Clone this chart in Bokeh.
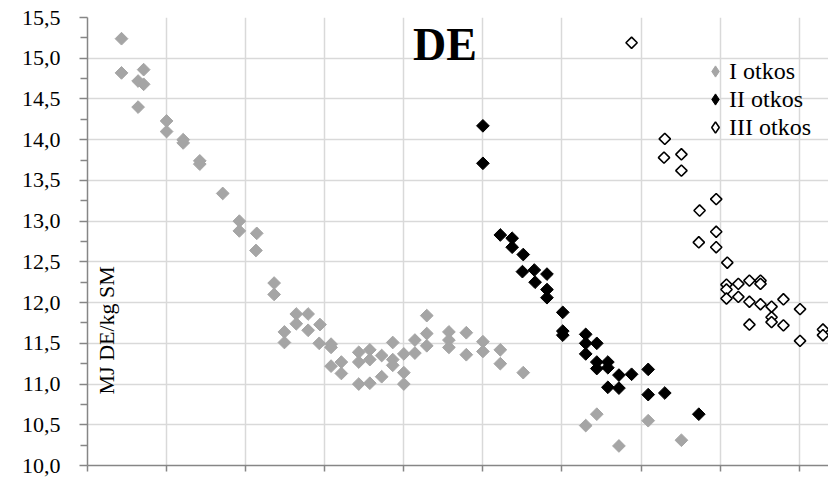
import numpy as np
from bokeh.plotting import figure
from bokeh.layouts import row
from bokeh.models import FixedTicker, Label, Range1d, Legend, LegendItem, Spacer
from bokeh.embed import file_html
from bokeh.resources import INLINE

# I otkos (grey)
x1 = [4.3, 4.3, 7.1, 6.4, 7.1, 6.4, 10.0, 10.0, 12.1, 12.1, 14.2, 14.2, 17.1, 19.2, 19.2,
      21.4, 21.3, 23.6, 23.6, 24.9, 24.9, 26.4, 26.4, 27.9, 27.9, 29.4, 29.3, 30.8, 30.8,
      30.8, 32.1, 32.1, 34.3, 34.3, 34.3, 35.7, 35.7, 35.7, 37.2, 37.2, 38.6, 38.6, 38.6,
      40.0, 40.0, 40.0, 41.4, 41.4, 42.9, 42.9, 42.9, 45.7, 45.7, 45.7, 47.9, 47.9, 50.0,
      50.0, 52.2, 52.2, 55.1, 63.0, 64.4, 67.2, 70.9, 75.1]
y1 = [15.24, 14.82, 14.86, 14.72, 14.68, 14.40, 14.23, 14.10, 14.00, 13.96, 13.74, 13.70,
      13.34, 13.00, 12.88, 12.85, 12.64, 12.24, 12.10, 11.64, 11.51, 11.86, 11.74, 11.86,
      11.66, 11.73, 11.50, 11.49, 11.45, 11.22, 11.27, 11.13, 11.39, 11.27, 11.00, 11.42,
      11.30, 11.01, 11.35, 11.09, 11.51, 11.30, 11.23, 11.37, 11.14, 11.00, 11.54, 11.38,
      11.84, 11.62, 11.47, 11.64, 11.54, 11.45, 11.63, 11.36, 11.52, 11.40, 11.42, 11.25,
      11.14, 10.49, 10.63, 10.24, 10.55, 10.31]

# II otkos (black)
x2 = [50.0, 50.0, 52.2, 53.7, 53.7, 55.1, 55.0, 56.5, 56.6, 58.1, 58.1, 58.1, 60.1, 60.1,
      60.1, 63.0, 63.0, 63.0, 64.4, 64.4, 64.4, 65.8, 65.8, 65.8, 67.2, 67.2, 68.8, 70.9,
      70.9, 73.0, 77.3]
y2 = [14.17, 13.71, 12.83, 12.79, 12.68, 12.59, 12.38, 12.40, 12.25, 12.35, 12.16, 12.06,
      11.88, 11.65, 11.60, 11.61, 11.50, 11.37, 11.50, 11.27, 11.19, 11.27, 11.20, 10.96,
      11.11, 10.95, 11.12, 11.18, 10.87, 10.89, 10.63]

# III otkos (white)
x3 = [68.8, 73.0, 72.9, 75.1, 75.1, 79.5, 77.4, 79.5, 77.3, 79.5, 80.9, 80.8, 80.8, 80.8,
      82.3, 82.3, 83.7, 83.7, 83.7, 85.1, 85.1, 85.1, 86.5, 86.5, 86.5, 88.0, 88.0, 90.1,
      90.1, 93.0, 93.0]
y3 = [15.19, 14.01, 13.78, 13.82, 13.62, 13.27, 13.13, 12.87, 12.74, 12.68, 12.49, 12.22,
      12.16, 12.05, 12.23, 12.07, 12.27, 12.01, 11.73, 12.27, 12.23, 11.98, 11.95, 11.82,
      11.76, 12.04, 11.72, 11.92, 11.53, 11.67, 11.60]

series_names = ["I otkos", "II otkos", "III otkos"]

y_ticks = [10.0, 10.5, 11.0, 11.5, 12.0, 12.5, 13.0, 13.5, 14.0, 14.5, 15.0, 15.5]
y_minor = [10.25, 10.75, 11.25, 11.75, 12.25, 12.75, 13.25, 13.75, 14.25, 14.75, 15.25]
y_labels = ["10,0", "10,5", "11,0", "11,5", "12,0", "12,5", "13,0", "13,5", "14,0",
            "14,5", "15,0", "15,5"]
x_ticks = [0, 10, 20, 30, 40, 50, 60, 70, 80, 90]

FONT = "Liberation Serif"
GRID = "#d9d9d9"
AXIS = "#868686"
GREY = "#a5a5a5"

p = figure(width=810, height=480, output_backend="svg", toolbar_location=None,
           x_range=Range1d(0, 93.7), y_range=Range1d(10, 15.5),
           min_border_left=0, min_border_right=0, min_border_top=17,
           min_border_bottom=15)
p.outline_line_color = None
p.background_fill_color = "white"
p.border_fill_color = "white"

# axes
p.yaxis.ticker = FixedTicker(ticks=y_ticks, minor_ticks=y_minor)
p.yaxis.major_label_overrides = {t: l for t, l in zip(y_ticks, y_labels)}
p.yaxis.major_label_text_font = FONT
p.yaxis.major_label_text_font_size = "22px"
p.yaxis.major_label_text_color = "black"
p.yaxis.major_label_standoff = 19
p.yaxis.major_tick_in = 0
p.yaxis.major_tick_out = 8
p.yaxis.minor_tick_in = 0
p.yaxis.minor_tick_out = 7
p.yaxis.axis_line_color = AXIS
p.yaxis.axis_line_width = 1.5
p.yaxis.major_tick_line_color = AXIS
p.yaxis.major_tick_line_width = 1.5
p.yaxis.minor_tick_line_color = AXIS
p.yaxis.minor_tick_line_width = 1.5

p.xaxis.ticker = FixedTicker(ticks=x_ticks, minor_ticks=[])
p.xaxis.major_label_overrides = {t: "" for t in x_ticks}
p.xaxis.major_label_text_font_size = "0px"
p.xaxis.major_label_standoff = 0
p.xaxis.major_tick_in = 0
p.xaxis.major_tick_out = 6
p.xaxis.axis_line_color = AXIS
p.xaxis.axis_line_width = 1.5
p.xaxis.major_tick_line_color = AXIS
p.xaxis.major_tick_line_width = 1.5

p.xgrid.ticker = FixedTicker(ticks=x_ticks)
p.ygrid.ticker = FixedTicker(ticks=y_ticks)
p.grid.grid_line_color = GRID
p.grid.grid_line_width = 1.5

# series
p.scatter(x1, y1, marker="square", size=9, angle=np.pi / 4,
          fill_color=GREY, line_color=GREY)
p.scatter(x2, y2, marker="square", size=9, angle=np.pi / 4,
          fill_color="black", line_color="black")
p.scatter(x3, y3, marker="square", size=8, angle=np.pi / 4,
          fill_color="white", line_color="black", line_width=1.6)

# legend keys: hidden diamond renderers of the same series (drawn only in legend)
k1 = p.scatter(x1, y1, marker="diamond", fill_color=GREY, line_color=GREY, visible=False)
k2 = p.scatter(x2, y2, marker="diamond", fill_color="black", line_color="black",
               visible=False)
k3 = p.scatter(x3, y3, marker="diamond", fill_color="white", line_color="black",
               line_width=1.6, visible=False)

legend = Legend(items=[LegendItem(label=n, renderers=[r])
                       for n, r in zip(series_names, [k1, k2, k3])],
                location=(614, 324))
legend.background_fill_alpha = 0
legend.border_line_color = None
legend.inactive_fill_alpha = 0
legend.padding = 0
legend.spacing = 0
legend.margin = 0
legend.glyph_width = 28
legend.glyph_height = 28
legend.label_height = 28
legend.label_standoff = 0
legend.label_text_font = FONT
legend.label_text_font_size = "24px"
legend.label_text_color = "black"
p.add_layout(legend)

# texts
p.add_layout(Label(x=45.2, y=15.17, text="DE", text_font=FONT, text_font_size="46px",
                   text_font_style="bold", text_align="center", text_baseline="middle",
                   text_color="black"))
p.add_layout(Label(x=2.4, y=11.66, text="MJ DE/kg SM", angle=np.pi / 2, text_font=FONT,
                   text_font_size="22px", text_align="center", text_baseline="middle",
                   text_color="black"))

layout = row(Spacer(width=18, height=480), p)

open("out.html", "w").write(file_html(layout, INLINE))
